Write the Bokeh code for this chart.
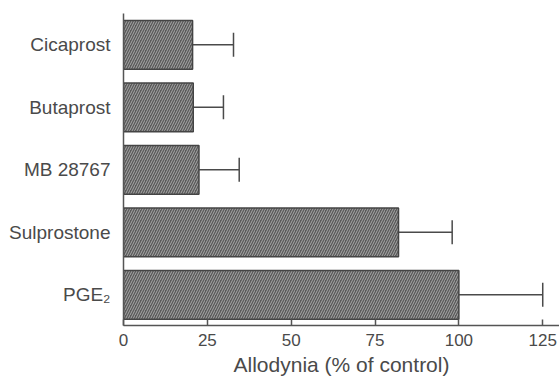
from bokeh.plotting import figure
from bokeh.models import FixedTicker, Whisker, TeeHead, ColumnDataSource, Range1d
from bokeh.embed import file_html
from bokeh.resources import INLINE

categories = ["PGE\u2082", "Sulprostone", "MB 28767", "Butaprost", "Cicaprost"]
values = [100.0, 82.0, 22.5, 20.8, 20.6]
errors = [25.0, 16.0, 12.0, 9.0, 12.2]
x_ticks = [0, 25, 50, 75, 100, 125]

pos = list(range(len(categories)))
src = ColumnDataSource(dict(
    y=pos, v=values,
    upper=[v + e for v, e in zip(values, errors)],
))

p = figure(width=559, height=378, output_backend="svg", toolbar_location=None,
           x_range=Range1d(0, 130), y_range=Range1d(-0.49, 4.5),
           min_border_left=123, min_border_right=0, min_border_top=13,
           min_border_bottom=52)
p.outline_line_color = None
p.grid.visible = False
p.background_fill_color = "white"

text_color = "#4a4a4a"
font = "Liberation Sans"

p.hbar(y="y", right="v", left=0, height=0.78, source=src,
       fill_color="#5a5a5a", line_color="#444444", line_width=1.5,
       hatch_pattern="/", hatch_color="#a8a8a8", hatch_scale=5, hatch_weight=1)

w = Whisker(base="y", lower="v", upper="upper", dimension="width", source=src,
            line_color="#4a4a4a", line_width=1.5, lower_head=None,
            upper_head=TeeHead(size=24, line_color="#4a4a4a", line_width=1.5))
p.add_layout(w)

xa = p.xaxis[0]
xa.ticker = FixedTicker(ticks=x_ticks)
xa.major_tick_in = 6
xa.major_tick_out = 0
xa.minor_tick_line_color = None
xa.axis_line_color = "#555555"
xa.axis_line_width = 1.5
xa.major_tick_line_color = "#555555"
xa.major_tick_line_width = 1.5
xa.major_label_text_font = font
xa.major_label_text_font_size = "17px"
xa.major_label_text_color = text_color
xa.major_label_standoff = 8
xa.axis_label = "Allodynia (% of control)"
xa.axis_label_text_font = font
xa.axis_label_text_font_style = "normal"
xa.axis_label_text_font_size = "21px"
xa.axis_label_text_color = text_color
xa.axis_label_standoff = 4

ya = p.yaxis[0]
ya.ticker = FixedTicker(ticks=pos)
ya.major_label_overrides = {i: c for i, c in zip(pos, categories)}
ya.major_tick_line_color = None
ya.minor_tick_line_color = None
ya.axis_line_color = "#555555"
ya.axis_line_width = 1.5
ya.major_label_text_font = font
ya.major_label_text_font_size = "19px"
ya.major_label_text_color = text_color
ya.major_label_standoff = 7

open("out.html", "w").write(file_html(p, INLINE))
